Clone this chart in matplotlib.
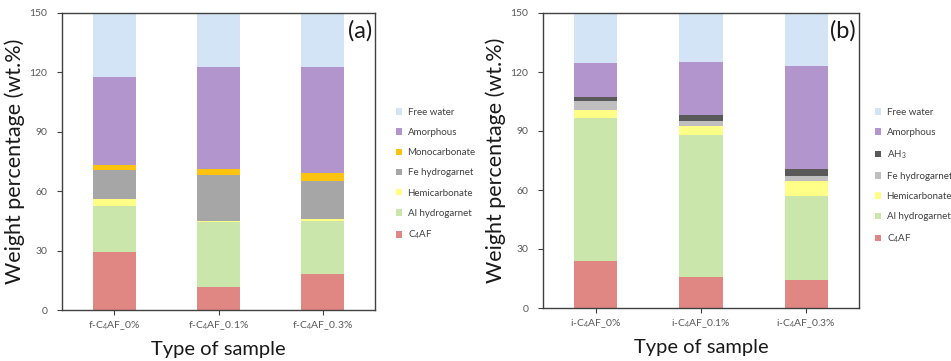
import matplotlib.pyplot as plt
from matplotlib.patches import Patch

plt.rcParams['font.family'] = ['Lato', 'DejaVu Sans']
plt.rcParams['mathtext.default'] = 'regular'

# amostras
samples_a = ["f-C$_4$AF_0%", "f-C$_4$AF_0.1%", "f-C$_4$AF_0.3%"]
samples_b = ["i-C$_4$AF_0%", "i-C$_4$AF_0.1%", "i-C$_4$AF_0.3%"]

# fases (a), de baixo para cima
c4af_a = [29.1, 11.4, 18.2]
al_hg_a = [23.5, 32.8, 27.0]
hemi_a = [3.6, 1.0, 1.0]
fe_hg_a = [14.3, 23.1, 18.9]
mono_a = [2.8, 2.7, 4.2]
amorph_a = [44.6, 51.9, 53.5]
water_a = [32.1, 27.1, 27.2]

# fases (b), de baixo para cima
c4af_b = [23.9, 16.0, 14.3]
al_hg_b = [72.8, 72.2, 42.7]
hemi_b = [4.1, 4.1, 7.8]
fe_hg_b = [4.4, 2.6, 2.4]
ah3_b = [1.9, 3.4, 3.4]
amorph_b = [17.6, 26.9, 52.4]
water_b = [25.3, 24.8, 27.0]

series_a = [
    ("C$_4$AF", c4af_a, "#E08683"),
    ("Al hydrogarnet", al_hg_a, "#CBE6AA"),
    ("Hemicarbonate", hemi_a, "#FFFF88"),
    ("Fe hydrogarnet", fe_hg_a, "#A6A6A6"),
    ("Monocarbonate", mono_a, "#FFC20E"),
    ("Amorphous", amorph_a, "#B295CD"),
    ("Free water", water_a, "#D2E4F5"),
]
series_b = [
    ("C$_4$AF", c4af_b, "#E08683"),
    ("Al hydrogarnet", al_hg_b, "#CBE6AA"),
    ("Hemicarbonate", hemi_b, "#FFFF88"),
    ("Fe hydrogarnet", fe_hg_b, "#BFBFBF"),
    ("AH$_3$", ah3_b, "#595959"),
    ("Amorphous", amorph_b, "#B295CD"),
    ("Free water", water_b, "#D2E4F5"),
]

fig = plt.figure(figsize=(9.51, 3.61), dpi=100)
ax_a = fig.add_axes([62/951, 51/361, 313/951, 297/361])
ax_b = fig.add_axes([543/951, 53/361, 316/951, 295/361])


def desenha(ax, samples, series, tag, leg_x, ylab_x):
    x = range(len(samples))
    base = [0] * len(samples)
    for nome, vals, cor in series:
        ax.bar(x, vals, 0.41, bottom=base, color=cor, edgecolor='none')
        base = [b + v for b, v in zip(base, vals)]
    ax.set_xlim(-0.5, len(samples) - 0.5)
    ax.set_ylim(0, 150)
    ax.set_yticks(range(0, 151, 30))
    ax.set_xticks(list(x))
    ax.set_xticklabels(samples)
    ax.tick_params(axis='both', direction='out', length=3.5, width=0.8,
                   labelsize=7.5, labelcolor='#595959', color='#404040')
    ax.tick_params(axis='y', pad=7)
    for s in ax.spines.values():
        s.set_color('#404040')
        s.set_linewidth(1.0)
    ax.set_xlabel("Type of sample", fontsize=14.5, color='#1a1a1a', labelpad=6)
    ax.set_ylabel("Weight percentage (wt.%)", fontsize=15.5, color='#1a1a1a')
    ax.yaxis.set_label_coords(ylab_x, 0.5)
    ax.text(0.99, 0.975, tag, transform=ax.transAxes, ha='right', va='top',
            fontsize=17, color='#1a1a1a')
    handles = [Patch(facecolor=cor, edgecolor='none', label=nome)
               for nome, vals, cor in reversed(series)]
    fig.legend(handles=handles, loc='upper left', bbox_to_anchor=leg_x,
               frameon=False, fontsize=7, labelcolor='#404040',
               handlelength=0.65, handleheight=0.65, handletextpad=0.55,
               labelspacing=1.15, borderaxespad=0)


desenha(ax_a, samples_a, series_a, "(a)", (392/951, 1 - 104/361), -0.118)
desenha(ax_b, samples_b, series_b, "(b)", (871/951, 1 - 104/361), -0.117)

fig.savefig("out.png", dpi=100)
